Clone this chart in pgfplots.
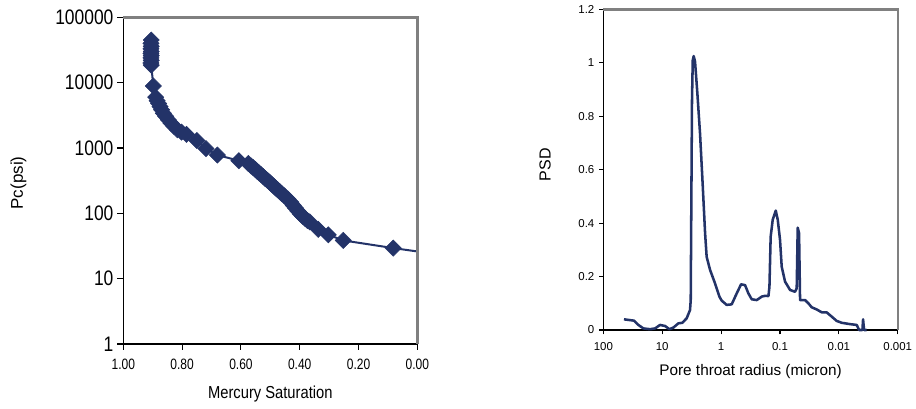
\documentclass[border=0pt]{standalone}
\usepackage{fontspec}
\setmainfont{Liberation Sans}
\usepackage{pgfplots}
\usepackage{pgfplotstable}
\pgfplotsset{compat=1.18}
\definecolor{navy}{RGB}{35,51,104}
\definecolor{framegray}{RGB}{128,128,128}

% Capillary pressure curve: saturation vs. Pc (psi)
\pgfplotstableread{
sw     pc
0.905  45000
0.906  40000
0.905  36000
0.906  33000
0.905  30000
0.906  28000
0.905  26000
0.906  24000
0.905  22000
0.906  20000
0.905  18500
0.898  8900
0.890  6000
0.885  5300
0.880  4800
0.875  4300
0.870  3850
0.864  3400
0.856  3050
0.847  2700
0.838  2400
0.828  2150
0.816  1900
0.802  1750
0.785  1620
0.750  1300
0.719  980
0.680  780
0.607  640
0.575  580
0.565  530
0.558  500
0.551  470
0.545  440
0.538  415
0.531  390
0.524  365
0.517  340
0.510  320
0.503  300
0.496  280
0.489  262
0.482  245
0.475  230
0.468  215
0.461  200
0.452  185
0.440  165
0.430  148
0.422  132
0.414  120
0.406  108
0.398  98
0.390  90
0.382  84
0.374  78
0.366  74
0.337  57
0.303  47
0.252  38.5
0.082  29.4
0.000  26.1
}\capdata

% Pore size distribution: pore throat radius (micron) vs. PSD
\pgfplotstableread{
r        psd
44.6     0.040
30.1     0.035
25.4     0.019
20.9     0.006
16.1     0.003
13.2     0.006
10.9     0.019
8.95     0.015
7.57     0.003
6.47     0.009
5.32     0.025
4.55     0.027
3.84     0.044
3.37     0.075
3.28     0.112
3.20     0.486
3.12     0.861
3.03     1.010
2.92     1.025
2.77     1.004
2.53     0.886
2.28     0.736
2.06     0.549
1.87     0.362
1.76     0.274
1.54     0.225
1.27     0.175
1.07     0.125
0.977    0.110
0.804    0.094
0.661    0.096
0.543    0.137
0.458    0.171
0.392    0.168
0.344    0.137
0.302    0.115
0.248    0.112
0.204    0.125
0.179    0.128
0.157    0.127
0.151    0.162
0.144    0.349
0.133    0.412
0.118    0.447
0.109    0.412
0.0998   0.337
0.0935   0.237
0.0820   0.181
0.0675   0.150
0.0555   0.143
0.0520   0.156
0.0500   0.383
0.0474   0.362
0.0456   0.112
0.0375   0.112
0.0330   0.100
0.0289   0.085
0.0238   0.077
0.0195   0.066
0.0161   0.066
0.0132   0.050
0.0109   0.034
0.00893  0.027
0.00646  0.022
0.00497  0.019
0.00454  0.000
0.00398  0.000
0.00388  0.040
0.00373  0.000
0.00337  0.000
}\psddata

\pgfplotsset{
  panel/.style={
    scale only axis,
    axis line style={black, line width=1pt},
    tick align=outside,
    xtick pos=bottom, ytick pos=left,
    major tick length=4.5pt,
    tick style={black, line width=0.8pt},
    minor tick length=0pt,
    minor tick style={draw=none},
    /pgf/number format/assume math mode=true,
    clip=false,
    after end axis/.code={
      \draw[framegray, line width=1.8pt]
        (axis description cs:0,1) -- (axis description cs:1,1)
        -- (axis description cs:1,0);
    },
  },
}

\begin{document}
\begin{tikzpicture}
\useasboundingbox (0,0) rectangle (687pt,-306pt);

\begin{axis}[
  panel,
  at={(92.5pt,-13pt)}, anchor=north west,
  width=220.5pt, height=245pt,
  ymode=log, ymin=1, ymax=100000,
  xmin=0, xmax=1, x dir=reverse,
  xtick={1,0.8,0.6,0.4,0.2,0},
  xticklabels={1.00,0.80,0.60,0.40,0.20,0.00},
  ytick={1,10,100,1000,10000,100000},
  yticklabels={1,10,100,1000,10000,100000},
  yticklabel style={font=\fontsize{15.75}{16}\selectfont, xscale=0.83},
  xticklabel style={font=\fontsize{11.25}{12}\selectfont, xscale=0.8, yshift=-3pt},
  ylabel={Pc(psi)},
  ylabel style={font=\fontsize{12.75}{14}\selectfont,
    at={(axis description cs:-0.357,0.493)}, anchor=center},
  xlabel={Mercury Saturation},
  xlabel style={font=\fontsize{13}{14}\selectfont, xscale=0.85,
    at={(axis description cs:0.5,-0.152)}, anchor=center},
]
\addplot[navy, line width=1.5pt, no marks] table[x=sw, y=pc] {\capdata};
\addplot[only marks, mark=square*, mark size=4.3pt,
  mark options={rotate=45, fill=navy, draw=navy},
  restrict x to domain=0.01:1] table[x=sw, y=pc] {\capdata};
\end{axis}

\begin{axis}[
  panel,
  major tick length=3.2pt,
  at={(452.5pt,-7pt)}, anchor=north west,
  width=220.8pt, height=240.5pt,
  xmode=log, xmin=0.001, xmax=100, x dir=reverse,
  ymin=0, ymax=1.2,
  xtick={100,10,1,0.1,0.01,0.001},
  xticklabels={100,10,1,0.1,0.01,0.001},
  ytick={0,0.2,0.4,0.6,0.8,1,1.2},
  yticklabels={0,0.2,0.4,0.6,0.8,1,1.2},
  ticklabel style={font=\fontsize{8.6}{10}\selectfont},
  xticklabel style={yshift=-2.5pt},
  ylabel={PSD},
  ylabel style={font=\fontsize{12}{13}\selectfont,
    at={(axis description cs:-0.198,0.515)}, anchor=center},
  xlabel={Pore throat radius (micron)},
  xlabel style={font=\fontsize{11.5}{12}\selectfont,
    at={(axis description cs:0.5,-0.13)}, anchor=center},
]
\addplot[navy, line width=1.9pt, no marks, line join=round] table[x=r, y=psd] {\psddata};
\end{axis}
\end{tikzpicture}
\end{document}
